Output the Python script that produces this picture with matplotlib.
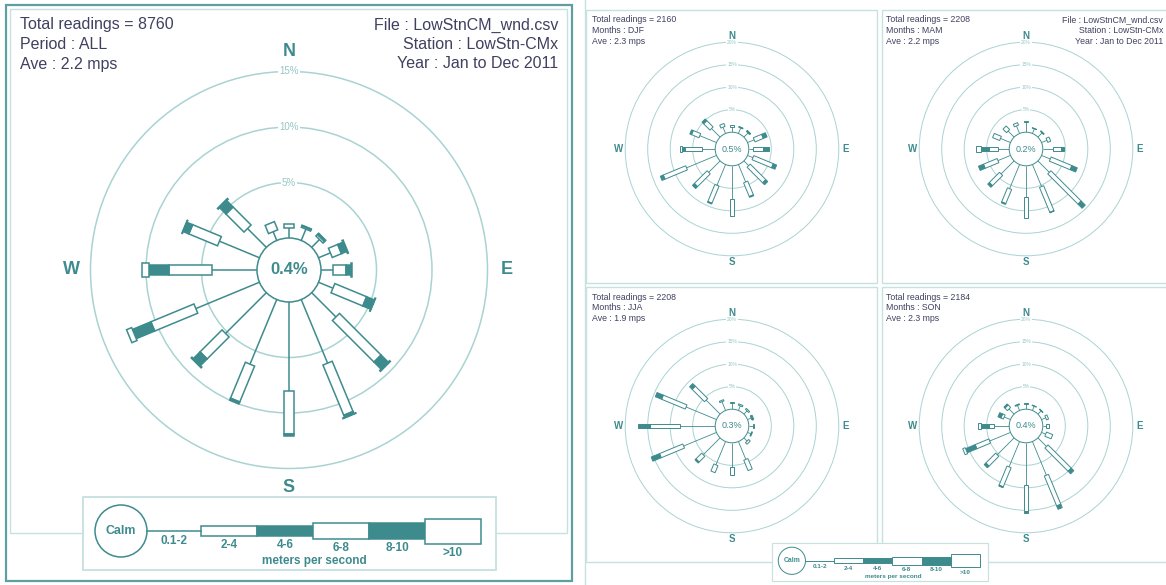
import numpy as np
import matplotlib
matplotlib.use("Agg")
import matplotlib.pyplot as plt
from matplotlib.patches import Polygon, Circle, Rectangle

plt.rcParams['font.family'] = ['Liberation Sans', 'DejaVu Sans']

# 16 compass points, clockwise from north
DIRECTIONS = ['N', 'NNE', 'NE', 'ENE', 'E', 'ESE', 'SE', 'SSE',
              'S', 'SSW', 'SW', 'WSW', 'W', 'WNW', 'NW', 'NNW']
SPEED_CLASSES = ['0.1-2', '2-4', '4-6', '6-8', '8-10', '>10']

# percent of readings per direction and speed class
FREQ_ALL = [
    [0.9, 0.4, 0, 0, 0, 0],
    [1.1, 0.15, 0.05, 0, 0, 0],
    [1.0, 0.2, 0.15, 0, 0, 0],
    [1.15, 0.9, 0.5, 0.1, 0, 0],
    [1.05, 1.2, 0.45, 0.1, 0, 0],
    [1.4, 3.1, 0.75, 0.05, 0, 0],
    [3.1, 5.3, 0.9, 0.1, 0, 0],
    [6.2, 4.9, 0.2, 0.05, 0, 0],
    [8.0, 3.9, 0.2, 0, 0, 0],
    [6.3, 3.5, 0.2, 0, 0, 0],
    [5.2, 2.8, 0.85, 0.1, 0, 0],
    [6.2, 4.2, 1.8, 0.5, 0, 0],
    [4.05, 3.9, 1.8, 0.6, 0, 0],
    [3.9, 2.8, 0.55, 0.05, 0, 0],
    [2.4, 2.3, 0.8, 0.1, 0, 0],
    [0.85, 0.8, 0, 0, 0, 0],
]
FREQ_DJF = [
    [1.2, 0.5, 0, 0, 0, 0],
    [1.3, 0.2, 0, 0, 0, 0],
    [1.3, 0.2, 0.1, 0, 0, 0],
    [1.6, 2.0, 0.9, 0, 0, 0],
    [1.0, 2.1, 1.3, 0, 0, 0],
    [1.3, 4.7, 0.8, 0, 0, 0],
    [1.5, 4.9, 0.6, 0, 0, 0],
    [4.2, 3.3, 0.2, 0, 0, 0],
    [7.4, 3.7, 0, 0, 0, 0],
    [5.0, 4.1, 0.2, 0, 0, 0],
    [3.6, 4.0, 0.6, 0, 0, 0],
    [7.2, 5.4, 0.7, 0, 0, 0],
    [3.0, 3.7, 0.7, 0.5, 0, 0],
    [4.0, 1.8, 0.4, 0, 0, 0],
    [2.7, 2.0, 0.5, 0, 0, 0],
    [1.5, 0.7, 0, 0, 0, 0],
]
FREQ_MAM = [
    [2.2, 0.3, 0, 0, 0, 0],
    [1.1, 0.1, 0, 0, 0, 0],
    [1.3, 0.2, 0, 0, 0, 0],
    [1.3, 0.7, 0, 0, 0, 0],
    [2.2, 1.9, 0.7, 0, 0, 0],
    [2.1, 5.0, 1.3, 0, 0, 0],
    [3.6, 9.5, 1.3, 0, 0, 0],
    [5.3, 6.0, 0.1, 0, 0, 0],
    [7.0, 4.5, 0, 0, 0, 0],
    [5.8, 3.4, 0.2, 0, 0, 0],
    [4.1, 3.2, 0.5, 0, 0, 0],
    [3.0, 3.3, 1.2, 0, 0, 0],
    [2.6, 1.8, 1.8, 1.1, 0, 0],
    [2.4, 1.7, 0, 0, 0, 0],
    [1.9, 1.1, 0, 0, 0, 0],
    [1.8, 0.6, 0, 0, 0, 0],
]
FREQ_JJA = [
    [1.3, 0.3, 0, 0, 0, 0],
    [1.1, 0.3, 0, 0, 0, 0],
    [1.0, 0.3, 0, 0, 0, 0],
    [0.9, 0.1, 0.3, 0, 0, 0],
    [1.0, 0.2, 0, 0, 0, 0],
    [0.8, 0.2, 0, 0, 0, 0],
    [1.0, 0.5, 0, 0, 0, 0],
    [4.3, 2.5, 0, 0, 0, 0],
    [5.3, 1.9, 0, 0, 0, 0],
    [5.6, 1.7, 0, 0, 0, 0],
    [5.3, 1.8, 0.3, 0, 0, 0],
    [7.9, 5.6, 2.0, 0, 0, 0],
    [7.9, 6.7, 2.6, 0, 0, 0],
    [7.3, 5.7, 1.5, 0, 0, 0],
    [4.4, 3.9, 0.8, 0, 0, 0],
    [2.1, 0.3, 0, 0, 0, 0],
]
FREQ_SON = [
    [1.1, 0.2, 0, 0, 0, 0],
    [1.0, 0.1, 0, 0, 0, 0],
    [1.0, 0.1, 0, 0, 0, 0],
    [1.0, 0.5, 0, 0, 0, 0],
    [0.8, 0.6, 0, 0, 0, 0],
    [1.0, 1.5, 0, 0, 0, 0],
    [2.7, 7.3, 0.8, 0, 0, 0],
    [8.1, 7.2, 0.8, 0, 0, 0],
    [9.4, 5.7, 0.6, 0, 0, 0],
    [6.1, 4.6, 0.2, 0, 0, 0],
    [5.3, 3.1, 0.5, 0, 0, 0],
    [5.0, 3.3, 2.3, 0.6, 0, 0],
    [3.3, 1.1, 1.9, 0.7, 0, 0],
    [1.5, 0.6, 0.7, 0, 0, 0],
    [1.6, 0.8, 0.3, 0, 0, 0],
    [1.2, 0.2, 0, 0, 0, 0],
]

CALM = [0.4, 0.5, 0.2, 0.3, 0.4]
PERIODS = ['ALL', 'DJF', 'MAM', 'JJA', 'SON']
READINGS = [8760, 2160, 2208, 2208, 2184]
AVE_MPS = [2.2, 2.3, 2.2, 1.9, 2.3]
FILE_INFO = ['File : LowStnCM_wnd.csv', 'Station : LowStn-CMx', 'Year : Jan to Dec 2011']

TEAL = '#3e8b8e'
RING = '#a9d3d2'
RING_TXT = '#96c6c5'
TXT = '#404060'
FRAME_DARK = '#5e9fa2'
FRAME_LIGHT = '#c6e1e0'

W_PX, H_PX = 1166, 585
fig = plt.figure(figsize=(W_PX / 100, H_PX / 100), dpi=100)


def px_axes(x0, y0, x1, y1):
    ax = fig.add_axes([x0 / W_PX, 1 - y1 / H_PX, (x1 - x0) / W_PX, (y1 - y0) / H_PX])
    ax.axis('off')
    return ax


# background layer in pixel units for panel frames and header text
bg = px_axes(0, 0, W_PX, H_PX)
bg.set_xlim(0, W_PX)
bg.set_ylim(H_PX, 0)


def frame(x0, y0, x1, y1, color, lw):
    bg.add_patch(Rectangle((x0, y0), x1 - x0, y1 - y0, fill=False, ec=color, lw=lw))


frame(6, 5, 572, 581, FRAME_DARK, 1.6)
frame(10, 9, 567, 533, FRAME_LIGHT, 1.0)
frame(586, 10, 877, 283, FRAME_LIGHT, 1.0)
frame(882, 10, 1175, 283, FRAME_LIGHT, 1.0)
frame(586, 287, 877, 562, FRAME_LIGHT, 1.0)
frame(882, 287, 1175, 562, FRAME_LIGHT, 1.0)
bg.plot([585, 585], [0, 585], color=FRAME_LIGHT, lw=1.0)


def header(x, y, i, fs, dy, right_x=None, label='Months'):
    lines = ['Total readings = %d' % READINGS[i],
             '%s : %s' % (label, PERIODS[i]),
             'Ave : %.1f mps' % AVE_MPS[i]]
    for j, s in enumerate(lines):
        bg.text(x, y + j * dy, s, fontsize=fs, color=TXT, va='center', ha='left')
    if right_x is not None:
        for j, s in enumerate(FILE_INFO):
            bg.text(right_x, y + j * dy, s, fontsize=fs, color=TXT, va='center', ha='right')


def draw_rose(cx, cy, k, freq, calm, rings, r0_px, widths_px, lw_box, lw_stem,
              lw_ring, fs_calm, fs_ring, fs_dir, dir_gap_px, calm_bold, half_px):
    ax = px_axes(cx - half_px, cy - half_px, cx + half_px, cy + half_px)
    lim = half_px / k
    ax.set_xlim(-lim, lim)
    ax.set_ylim(-lim, lim)
    r0 = r0_px / k
    for ring in rings:
        ax.add_patch(Circle((0, 0), r0 + ring, fill=False, ec=RING, lw=lw_ring, clip_on=False))
        ax.text(0, r0 + ring, '%d%%' % ring, ha='center', va='center', fontsize=fs_ring,
                color=RING_TXT, bbox=dict(fc='white', ec='none', pad=0.6), clip_on=False)
    fills = [False, True, False, True, False]
    widths = np.array(widths_px) / k
    for d, row in enumerate(freq):
        th = np.deg2rad(d * 22.5)
        u = np.array([np.sin(th), np.cos(th)])
        p = np.array([np.cos(th), -np.sin(th)])
        r = r0 + row[0]
        ax.plot([r0 * u[0], r * u[0]], [r0 * u[1], r * u[1]], color=TEAL, lw=lw_stem,
                solid_capstyle='butt', clip_on=False)
        for val, w, filled in zip(row[1:], widths, fills):
            if val <= 0:
                continue
            a, b = r, r + val
            pts = [a * u + w / 2 * p, b * u + w / 2 * p, b * u - w / 2 * p, a * u - w / 2 * p]
            ax.add_patch(Polygon(pts, closed=True, fc=TEAL if filled else 'white', ec=TEAL,
                                 lw=lw_box, joinstyle='miter', clip_on=False))
            r = b
    ax.add_patch(Circle((0, 0), r0, fc='white', ec=TEAL, lw=lw_box, clip_on=False, zorder=3))
    ax.text(0, 0, '%.1f%%' % calm, ha='center', va='center', fontsize=fs_calm, color=TEAL,
            fontweight='bold' if calm_bold else 'normal', zorder=4)
    rd = r0 + rings[-1] + dir_gap_px / k
    for lab, (x, y) in zip(['N', 'E', 'S', 'W'], [(0, rd), (rd, 0), (0, -rd), (-rd, 0)]):
        ax.text(x, y, lab, ha='center', va='center', fontsize=fs_dir, color=TEAL,
                fontweight='bold', clip_on=False)
    return ax


def draw_legend(x0, y0, scale, fs, lw):
    ax = px_axes(x0, y0, x0 + 413 * scale, y0 + 73 * scale)
    ax.set_xlim(0, 413)
    ax.set_ylim(73, 0)
    ax.add_patch(Rectangle((0, 0), 413, 73, fc='white', ec=FRAME_LIGHT, lw=lw * 1.2, clip_on=False))
    ax.add_patch(Circle((38, 34), 26, fc='white', ec=TEAL, lw=lw))
    ax.text(38, 34, 'Calm', ha='center', va='center', fontsize=fs * 1.05, color=TEAL, fontweight='bold')
    ax.plot([64, 118], [34, 34], color=TEAL, lw=lw)
    heights = [10, 10, 16, 16, 25]
    fills = [False, True, False, True, False]
    label_y = [48, 48, 51, 51, 56]
    ax.text(91, 44, SPEED_CLASSES[0], ha='center', va='center', fontsize=fs, color=TEAL, fontweight='bold')
    x = 118
    for lab, h, filled, ly in zip(SPEED_CLASSES[1:], heights, fills, label_y):
        ax.add_patch(Rectangle((x, 34 - h / 2), 56, h, fc=TEAL if filled else 'white', ec=TEAL, lw=lw))
        ax.text(x + 28, ly, lab, ha='center', va='center', fontsize=fs, color=TEAL, fontweight='bold')
        x += 56
    ax.text(231, 64, 'meters per second', ha='center', va='center', fontsize=fs, color=TEAL,
            fontweight='bold')


# annual rose
header(20, 25, 0, 11.5, 19.5, right_x=558, label='Period')
draw_rose(289, 270, 11.1, FREQ_ALL, CALM[0], [5, 10, 15], 32, [10, 10, 14, 14, 20],
          lw_box=1.1, lw_stem=1.1, lw_ring=1.1, fs_calm=12, fs_ring=7, fs_dir=13,
          dir_gap_px=19.5, calm_bold=True, half_px=235)
draw_legend(83, 497, 1.0, 8.5, 1.1)

# seasonal roses
seasonal = [(732, 149, FREQ_DJF, 1, 592, None),
            (1026, 149, FREQ_MAM, 2, 886, 1163),
            (732, 426, FREQ_JJA, 3, 592, None),
            (1026, 426, FREQ_SON, 4, 886, None)]
for cx, cy, freq, i, tx, rx in seasonal:
    header(tx, cy - 129, i, 6.3, 10.8, right_x=rx)
    draw_rose(cx, cy, 4.5, freq, CALM[i], [5, 10, 15, 20], 16.8, [4.5, 4.5, 6.5, 6.5, 9.5],
              lw_box=0.7, lw_stem=0.6, lw_ring=0.7, fs_calm=6.5, fs_ring=3.5, fs_dir=7,
              dir_gap_px=6.5, calm_bold=False, half_px=124)
draw_legend(772, 543, 0.523, 4.6, 0.7)

fig.savefig('out.png', dpi=100)
